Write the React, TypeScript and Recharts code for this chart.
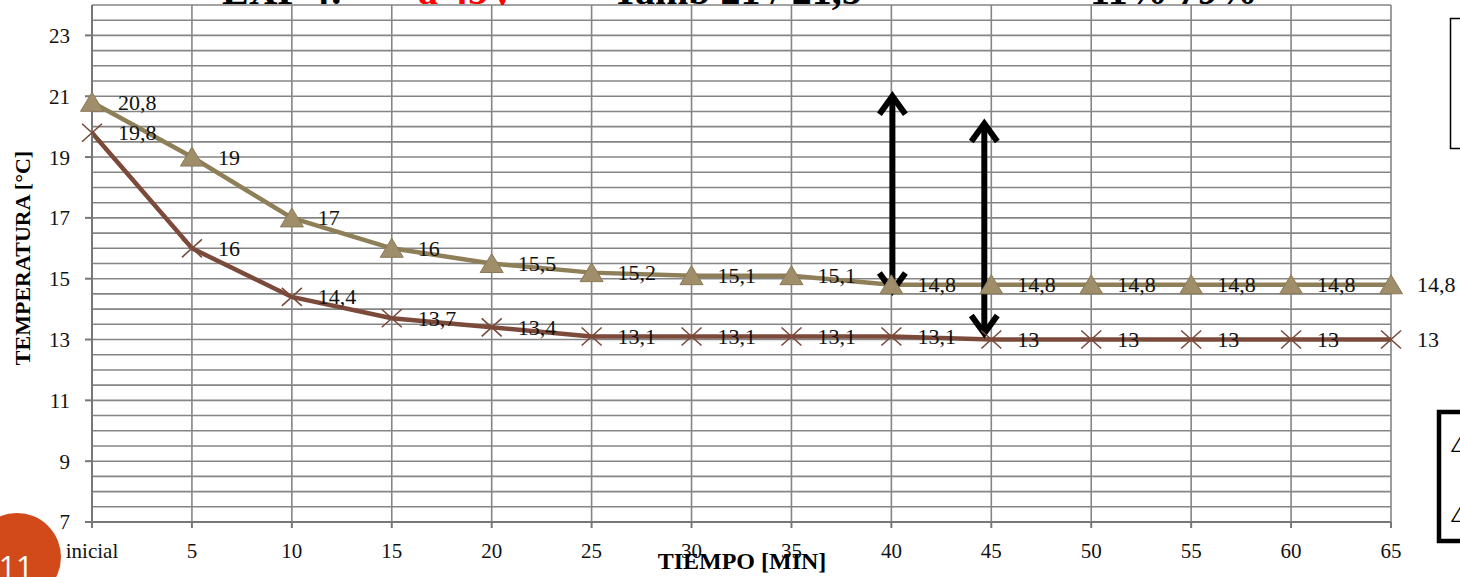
import { LineChart, Line, XAxis, YAxis, CartesianGrid, LabelList, ReferenceLine } from "recharts";

// Tiempo de medición [min]
const tiempos = ["inicial", "5", "10", "15", "20", "25", "30", "35", "40", "45", "50", "55", "60", "65"];

// Temperaturas [°C]
const tempSuperior = [20.8, 19, 17, 16, 15.5, 15.2, 15.1, 15.1, 14.8, 14.8, 14.8, 14.8, 14.8, 14.8];
const tempInferior = [19.8, 16, 14.4, 13.7, 13.4, 13.1, 13.1, 13.1, 13.1, 13, 13, 13, 13, 13];

const ticksY = [7, 9, 11, 13, 15, 17, 19, 21, 23];
const lineasY = Array.from({ length: 35 }, (_, i) => 7 + i * 0.5);

// Flechas de diferencia (categoría, desde, hasta)
const flechaA = { x: "40", desde: 21.1, hasta: 14.5 };
const flechaB = { x: "45", desde: 20.2, hasta: 13.1 };

const data = tiempos.map((t, i) => ({ t, sup: tempSuperior[i], inf: tempInferior[i] }));

const FUENTE = "'Liberation Serif', 'Times New Roman', serif";
const COLOR_SUP = "#8E7F58";
const COLOR_INF = "#7B4A3A";

const fmt = (v: number) => String(v).replace(".", ",");

const Triangulo = (p: any) => {
  const { cx, cy } = p;
  if (cx == null || cy == null) return null;
  return (
    <path
      d={`M${cx},${cy - 10} L${cx + 11.5},${cy + 9} L${cx - 11.5},${cy + 9} Z`}
      fill="#A08D6A"
      stroke="#8A7A56"
      strokeWidth={1}
    />
  );
};

const Cruz = (p: any) => {
  const { cx, cy } = p;
  if (cx == null || cy == null) return null;
  return (
    <path
      d={`M${cx - 10},${cy - 9} L${cx + 10},${cy + 9} M${cx + 10},${cy - 9} L${cx - 10},${cy + 9}`}
      stroke={COLOR_INF}
      strokeWidth={1.6}
      fill="none"
    />
  );
};

const Etiqueta = (p: any) => {
  const { x, y, value } = p;
  return (
    <text x={x + 26} y={y} dominantBaseline="central" textAnchor="start" fontFamily={FUENTE} fontSize={22} fill="#111">
      {fmt(value)}
    </text>
  );
};

const Flecha = (p: any) => {
  const { x1, y1, x2, y2, dx = 0 } = p;
  const x = x1 + dx;
  const top = Math.min(y1, y2);
  const bot = Math.max(y1, y2);
  return (
    <g stroke="#000" strokeWidth={6} fill="none" strokeLinejoin="miter" strokeLinecap="butt">
      <line x1={x} y1={top + 3} x2={x} y2={bot - 3} />
      <path d={`M${x - 13},${top + 21} L${x},${top + 3} L${x + 13},${top + 21}`} />
      <path d={`M${x - 13},${bot - 21} L${x},${bot - 3} L${x + 13},${bot - 21}`} />
    </g>
  );
};

export default function App() {
  return (
    <div
      style={{
        position: "absolute",
        left: 0,
        top: 0,
        width: 1460,
        height: 577,
        overflow: "hidden",
        background: "#fff",
        fontFamily: FUENTE,
      }}
    >
      <LineChart width={1460} height={577} data={data} margin={{ top: 5, right: 69, bottom: 25, left: 32 }}>
        <CartesianGrid
          horizontalValues={lineasY}
          stroke="#858585"
          strokeWidth={1.6}
        />
        <XAxis
          dataKey="t"
          interval={0}
          tickSize={6}
          tickMargin={15}
          height={30}
          axisLine={{ stroke: "#777", strokeWidth: 2 }}
          tickLine={{ stroke: "#777", strokeWidth: 2 }}
          tick={{ fontFamily: FUENTE, fontSize: 21, fill: "#111" }}
        />
        <YAxis
          type="number"
          domain={[7, 24]}
          ticks={ticksY}
          interval={0}
          width={60}
          tickSize={7}
          tickMargin={15}
          axisLine={{ stroke: "#777", strokeWidth: 2 }}
          tickLine={{ stroke: "#777", strokeWidth: 2 }}
          tick={{ fontFamily: FUENTE, fontSize: 21, fill: "#111" }}
        />
        <Line
          dataKey="inf"
          stroke={COLOR_INF}
          strokeWidth={4.5}
          dot={<Cruz />}
          activeDot={false}
          isAnimationActive={false}
        >
          <LabelList dataKey="inf" content={<Etiqueta />} />
        </Line>
        <Line
          dataKey="sup"
          stroke={COLOR_SUP}
          strokeWidth={4.5}
          dot={<Triangulo />}
          activeDot={false}
          isAnimationActive={false}
        >
          <LabelList dataKey="sup" content={<Etiqueta />} />
        </Line>
        <ReferenceLine
          segment={[{ x: flechaA.x, y: flechaA.desde }, { x: flechaA.x, y: flechaA.hasta }]}
          shape={(p: any) => <Flecha {...p} dx={1} />}
        />
        <ReferenceLine
          segment={[{ x: flechaB.x, y: flechaB.desde }, { x: flechaB.x, y: flechaB.hasta }]}
          shape={(p: any) => <Flecha {...p} dx={-7} />}
        />
      </LineChart>

      <svg
        width={1460}
        height={577}
        style={{ position: "absolute", left: 0, top: 0, pointerEvents: "none" }}
      >
        {/* título del experimento, cortado por el borde superior */}
        <text y={4} fontFamily={FUENTE} fontSize={40} fontWeight="bold" fill="#000">
          <tspan x={222}>EXP 4:</tspan>
          <tspan x={418} fill="#FF0000">a 45V</tspan>
          <tspan x={612}>Tamb  21 / 21,5</tspan>
          <tspan x={1090}>11%  79%</tspan>
        </text>

        {/* títulos de ejes */}
        <text
          x={22}
          y={258}
          transform="rotate(-90, 22, 258)"
          textAnchor="middle"
          dominantBaseline="central"
          fontFamily={FUENTE}
          fontSize={22}
          fontWeight="bold"
          fill="#000"
        >
          TEMPERATURA [°C]
        </text>
        <text x={742} y={569} textAnchor="middle" fontFamily={FUENTE} fontSize={24} fontWeight="bold" fill="#000">
          TIEMPO [MIN]
        </text>

        {/* cuadros laterales */}
        <rect x={1450.5} y={18.5} width={30} height={130} fill="#fff" stroke="#000" strokeWidth={1.5} />
        <rect x={1439} y={412} width={40} height={129} fill="#fff" stroke="#000" strokeWidth={4.5} />
        <text x={1452} y={452} fontFamily={FUENTE} fontSize={26} fontStyle="italic" fill="#000">Δ</text>
        <text x={1452} y={522} fontFamily={FUENTE} fontSize={26} fontStyle="italic" fill="#000">Δ</text>

        {/* número de diapositiva */}
        <circle cx={17} cy={557} r={44} fill="#D24A1A" />
        <text x={16} y={577} textAnchor="middle" fontFamily="'Open Sans', sans-serif" fontSize={30} fill="#fff">
          11
        </text>
      </svg>
    </div>
  );
}
